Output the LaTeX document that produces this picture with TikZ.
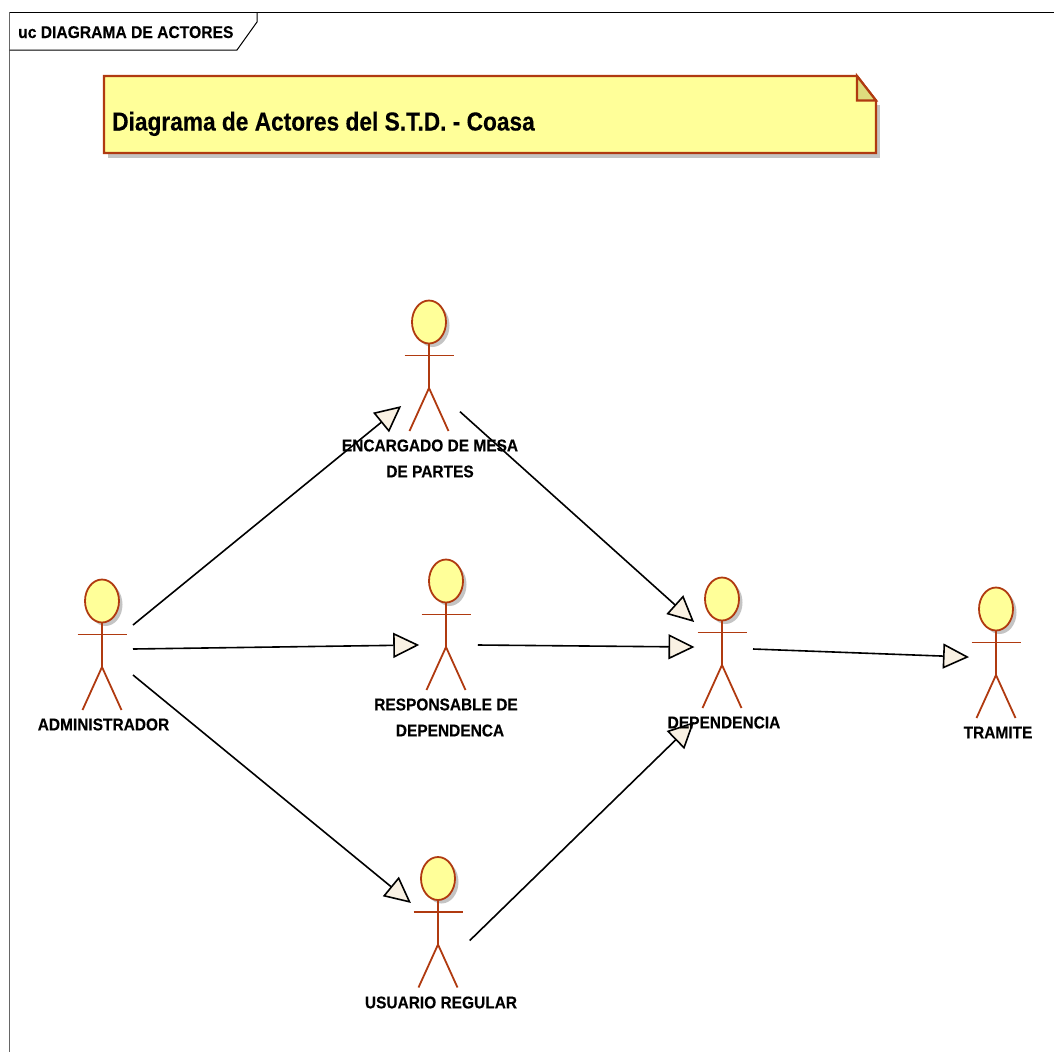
\documentclass[tikz,border=0pt]{standalone}
\usepackage{fontspec}
\setmainfont{Liberation Sans}
\newfontfamily\narrowlabel[FakeStretch=0.91,BoldFeatures={FakeBold=0.25}]{Liberation Sans}
\newfontfamily\narrowtab[FakeStretch=0.92,BoldFeatures={FakeBold=0.25}]{Liberation Sans}
\newfontfamily\narrowtitle[FakeStretch=0.873,BoldFeatures={FakeBold=0.25}]{Liberation Sans}
\usetikzlibrary{arrows.meta,calc}
\definecolor{umlred}{HTML}{B03A10}
\definecolor{notefill}{HTML}{FFFF99}
\definecolor{foldfill}{HTML}{DEDC7E}
\definecolor{cream}{HTML}{F9F1E3}
\definecolor{shadowgray}{HTML}{C4C4C4}
\tikzset{
  x=1pt,y=-1pt,
  umlline/.style={draw=umlred,line width=1.8pt},
  headshape/.style={umlline,fill=notefill},
  actorbox/.style={rectangle,minimum width=60pt,minimum height=130pt,inner sep=0pt,outer sep=0pt},
  actorlabel/.style={font=\narrowlabel\fontsize{17}{26}\selectfont\bfseries,align=center,inner sep=0pt,text=black},
  generalize/.style={draw=black,line width=1.6pt,shorten >=-1.5pt,-{Triangle[length=26pt,width=25pt,fill=cream,line width=1.6pt]}},
}
\newcommand{\umlactor}[4]{% name, head x, head y, box x
  \fill[shadowgray] (#2+3.5,#3+3.5) ellipse [x radius=17,y radius=21.5];
  \draw[umlline] (#2,#3+21.5) -- (#2,#3+66) -- (#2-19.5,#3+109);
  \draw[umlline] (#2,#3+66) -- (#2+19.5,#3+109);
  \draw[umlline] (#2-24.5,#3+33.5) -- (#2+24.5,#3+33.5);
  \path[headshape] (#2,#3) ellipse [x radius=17,y radius=21.5];
  \node[actorbox] (#1) at (#4,#3+44) {};
}
\begin{document}
\begin{tikzpicture}
\useasboundingbox (0,0) rectangle (1054,1052);
% frame
\draw[black!60,line width=1.2pt] (9.5,12) -- (9.5,1052);
\draw[black,line width=1pt] (9.5,12) -- (1054,12);
\draw[black,line width=1pt] (9.5,50) -- (237,50) -- (257,22) -- (257,12);
\node[font=\narrowtab\fontsize{17}{18}\selectfont\bfseries,anchor=base west,inner sep=0pt,text=black] (frametitle) at (18,38) {uc DIAGRAMA DE ACTORES};
% note
\fill[shadowgray] (108,105) rectangle (880,158);
\path[umlline,line join=miter,line width=2.2pt,fill=notefill] (104,76) -- (857,76) -- (876,100.5) -- (876,153) -- (104,153) -- cycle;
\path[umlline,line width=2.2pt,fill=foldfill] (857,76) -- (876,100.5) -- (857,100.5) -- cycle;
\node[font=\narrowtitle\fontsize{26}{30}\selectfont\bfseries,anchor=base west,inner sep=0pt,text=black] (notetext) at (112,130.5) {Diagrama de Actores del S.T.D. - Coasa};
% actors
\umlactor{admin}{102}{601}{103}
\umlactor{encargado}{429}{322}{430}
\umlactor{responsable}{446}{581}{447.75}
\umlactor{dependencia}{722}{599}{723}
\umlactor{tramite}{996}{609}{997.5}
\umlactor{usuario}{438}{878.5}{439.75}
% connectors
\draw[generalize] ($(admin.east)+(0,-20)$) -- ($(encargado.west)+(0,41)$);
\draw[generalize] ($(admin.east)+(0,4)$) -- ($(responsable.west)+(0,20)$);
\draw[generalize] ($(admin.east)+(0,30)$) -- ($(usuario.west)+(0,-20.5)$);
\draw[generalize] ($(encargado.east)+(0,45.7)$) -- ($(dependencia.west)+(0,-22)$);
\draw[generalize] ($(responsable.east)+(0,20)$) -- ($(dependencia.west)+(0,4)$);
\draw[generalize] ($(usuario.east)+(0,18)$) -- ($(dependencia.west)+(0,80)$);
\draw[generalize] ($(dependencia.east)+(0,6)$) -- ($(tramite.west)+(0,4)$);
% labels
\node[actorlabel] (ladmin) at (103.5,724.5) {ADMINISTRADOR};
\node[actorlabel] (lenc) at (430,458.5) {ENCARGADO DE MESA\\DE PARTES};
\node[actorlabel] (lres) at (446,717.5) {RESPONSABLE DE\\\hspace*{8pt}DEPENDENCA};
\node[actorlabel] (ldep) at (724,722.5) {DEPENDENCIA};
\node[actorlabel] (ltra) at (998,732.5) {TRAMITE};
\node[actorlabel] (lusu) at (441,1002.5) {USUARIO REGULAR};
\end{tikzpicture}
\end{document}
